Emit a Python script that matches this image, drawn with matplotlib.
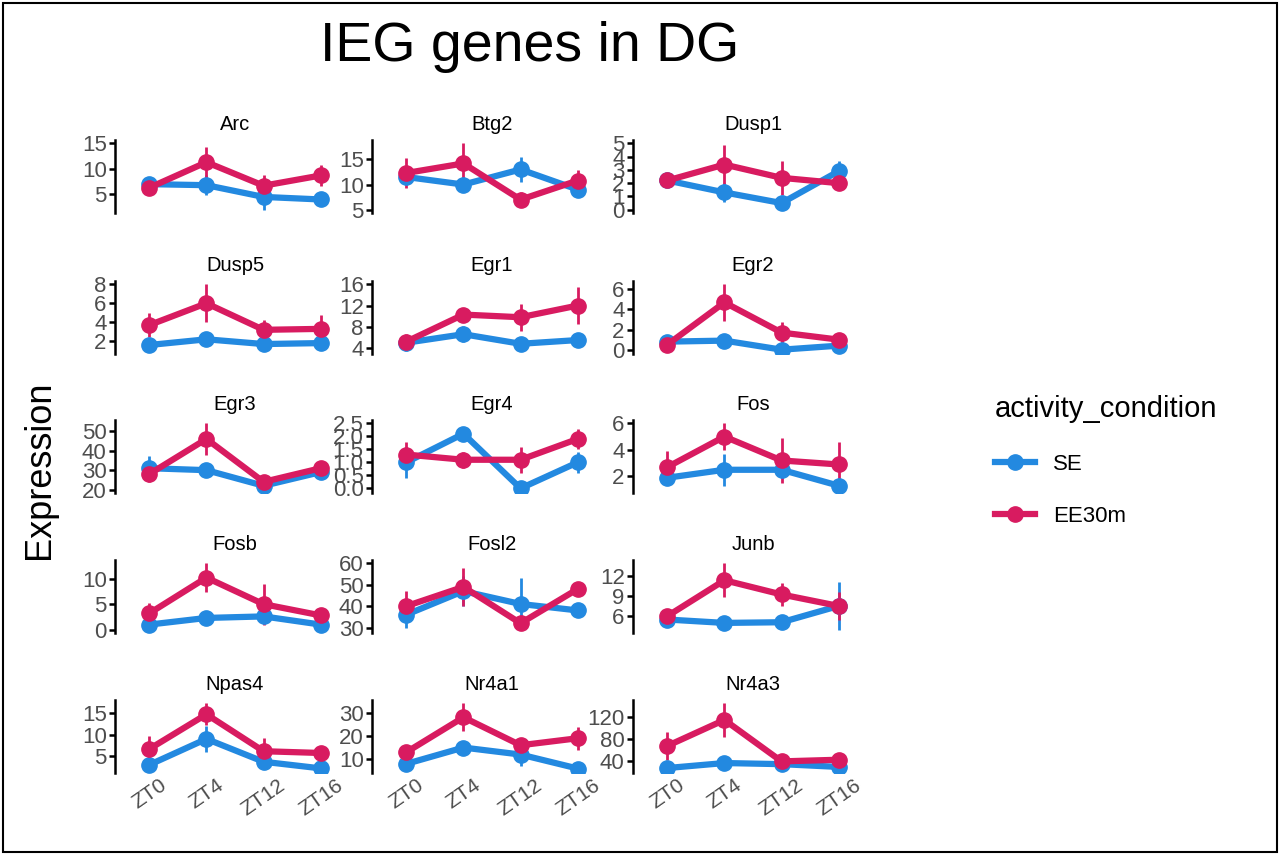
import matplotlib.pyplot as plt
from matplotlib.patches import Rectangle
from matplotlib.lines import Line2D

plt.rcParams['font.family'] = ['Liberation Sans', 'DejaVu Sans']

# time points and genes
zt = ['ZT0', 'ZT4', 'ZT12', 'ZT16']
genes = ['Arc', 'Btg2', 'Dusp1', 'Dusp5', 'Egr1', 'Egr2', 'Egr3', 'Egr4',
         'Fos', 'Fosb', 'Fosl2', 'Junb', 'Npas4', 'Nr4a1', 'Nr4a3']

# mean expression and error per gene (SE condition)
se_mean = [[7, 6.8, 4.5, 4], [11.5, 10, 13, 9], [2.2, 1.3, 0.5, 2.9],
           [1.6, 2.2, 1.7, 1.8], [5, 6.6, 4.8, 5.5], [0.8, 0.9, 0, 0.4],
           [31, 30, 22, 29], [1.0, 2.1, 0, 1.0], [1.9, 2.5, 2.5, 1.3],
           [1, 2.3, 2.6, 1], [36, 47, 41, 38], [5.5, 5, 5.1, 7.5],
           [3.1, 9, 3.8, 2.3], [8, 15, 12, 6], [28, 37, 35, 30]]
se_err = [[1, 2, 2.5, 0.5], [1.5, 1, 2.5, 1], [0.4, 0.7, 0.3, 0.8],
          [0.5, 0.6, 0.7, 0.5], [1.5, 1.5, 0.5, 0.5], [0.2, 0.3, 0.1, 0.2],
          [6, 3, 2, 2], [0.6, 0.1, 0.05, 0.4], [0.5, 1.2, 0.6, 0.3],
          [0.3, 0.5, 0.8, 0.3], [6, 7, 12, 1], [0.3, 0.3, 0.8, 3.5],
          [0.8, 3, 1, 0.3], [1.5, 2, 5, 0.5], [3, 5, 3, 2]]
# EE30m condition
ee_mean = [[6.3, 11.3, 6.7, 8.7], [12.3, 14.2, 7, 10.8], [2.2, 3.4, 2.4, 2.0],
           [3.7, 6, 3.2, 3.3], [5.2, 10.3, 9.8, 12], [0.5, 4.7, 1.7, 1.0],
           [28, 46, 24, 31], [1.3, 1.1, 1.1, 1.9], [2.7, 5, 3.2, 2.9],
           [3.2, 10.2, 5, 2.8], [40, 49, 32, 48], [6, 11.3, 9.2, 7.5],
           [6.7, 14.6, 6.2, 5.8], [13, 28, 16, 19], [68, 115, 40, 43]]
ee_err = [[0.8, 3, 2, 2], [3, 4, 1.5, 2], [0.3, 1.5, 1.3, 0.3],
          [1.3, 2, 1, 1.5], [1.5, 1, 2.5, 3.5], [0.3, 1.8, 1.1, 0.3],
          [4, 8, 2, 3], [0.5, 0.3, 0.5, 0.4], [1.2, 1, 1.7, 1.7],
          [2, 2.8, 4, 1], [7, 9, 3, 1], [0.5, 2.5, 1.7, 2],
          [3, 2.5, 3, 1], [2, 6, 3, 5], [25, 30, 5, 8]]
yticks = [[5, 10, 15], [5, 10, 15], [0, 1, 2, 3, 4, 5], [2, 4, 6, 8],
          [4, 8, 12, 16], [0, 2, 4, 6], [20, 30, 40, 50],
          [0.0, 0.5, 1.0, 1.5, 2.0, 2.5], [2, 4, 6], [0, 5, 10],
          [30, 40, 50, 60], [6, 9, 12], [5, 10, 15], [10, 20, 30], [40, 80, 120]]

SE_COL = '#2389e0'
EE_COL = '#d81b60'
W, H = 1280, 855

fig = plt.figure(figsize=(W / 100, H / 100), dpi=100)
fig.patches.append(Rectangle((3 / W, 3 / H), 1 - 6 / W, 1 - 6 / H, transform=fig.transFigure,
                             fill=False, edgecolor='black', linewidth=1.5))

col_left = [115, 372, 633]
row_top = [140, 281, 420, 560, 700]
aw, ah = 240, 73
x = list(range(len(zt)))

for i, g in enumerate(genes):
    r, c = divmod(i, 3)
    ax = fig.add_axes([col_left[c] / W, 1 - (row_top[r] + ah) / H, aw / W, ah / H])
    for m, e, col in [(se_mean[i], se_err[i], SE_COL), (ee_mean[i], ee_err[i], EE_COL)]:
        ax.errorbar(x, m, yerr=e, color=col, lw=4.5, elinewidth=2, capsize=0,
                    marker='o', markersize=11)
    ax.set_xlim(-0.6, 3.6)
    ax.set_yticks(yticks[i])
    if i == 7:
        ax.set_yticklabels(['%.1f' % t for t in yticks[i]])
    else:
        ax.set_yticklabels([str(int(t)) for t in yticks[i]])
    lo = min(min(a - b for a, b in zip(se_mean[i], se_err[i])), min(a - b for a, b in zip(ee_mean[i], ee_err[i])), yticks[i][0])
    hi = max(max(a + b for a, b in zip(se_mean[i], se_err[i])), max(a + b for a, b in zip(ee_mean[i], ee_err[i])), yticks[i][-1])
    pad = (hi - lo) * 0.05
    ax.set_ylim(lo - pad, hi + pad)
    for s in ['top', 'right', 'bottom']:
        ax.spines[s].set_visible(False)
    ax.spines['left'].set_linewidth(1.8)
    ax.tick_params(axis='y', labelsize=16, labelcolor='#4d4d4d', width=1.8, length=4, pad=2)
    ax.set_title(g, fontsize=14.5, pad=7)
    if r == 4:
        ax.set_xticks(x)
        ax.set_xticklabels(zt, rotation=35, fontsize=15, color='#4d4d4d')
        ax.tick_params(axis='x', length=0, pad=2)
    else:
        ax.set_xticks([])
    ax.patch.set_visible(False)

fig.text(530 / W, 1 - 47 / H, 'IEG genes in DG', fontsize=40, ha='center', va='center')
fig.text(40 / W, 1 - 470 / H, 'Expression', fontsize=26, rotation=90, ha='center', va='center')

handles = [Line2D([], [], color=SE_COL, lw=4.5, marker='o', markersize=11),
           Line2D([], [], color=EE_COL, lw=4.5, marker='o', markersize=11)]
leg = fig.legend(handles, ['SE', 'EE30m'], title='activity_condition', loc='upper left',
                 bbox_to_anchor=(975 / W, 1 - 375 / H), frameon=False, fontsize=16,
                 title_fontsize=21, handlelength=1.8, labelspacing=1.4)
leg._legend_box.align = 'left'

fig.savefig('out.png', dpi=100)
